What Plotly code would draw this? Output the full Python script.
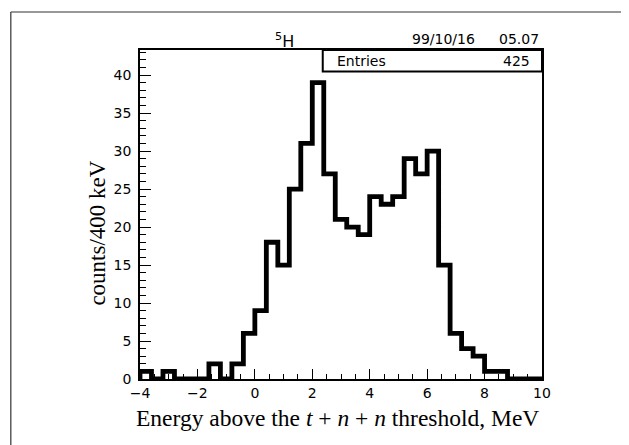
import plotly.graph_objects as go

# ---- data ----
bin_edges = [-4.0 + 0.4 * i for i in range(36)]
counts = [1, 0, 1, 0, 0, 0, 2, 0, 2, 6,
          9, 18, 15, 25, 31, 39, 27, 21, 20, 19,
          24, 23, 24, 29, 27, 30, 15, 6, 4, 3,
          1, 1, 0, 0, 0]
entries = 425
title_text = "<sup>5</sup>H"
date_text = "99/10/16"
time_text = "05.07"
x_title = "Energy above the <i>t</i> + <i>n</i> + <i>n</i> threshold, MeV"
y_title = "counts/400 keV"

# ---- geometry (pixels, in window coordinates; page body has an 8px margin) ----
OFF = 8
W, H = 629 - OFF, 445 - OFF
L, R, T, B = 139.5 - OFF, 542.5 - OFF, 50 - OFF, 379 - OFF


def px(x):
    return (x - OFF - L) / (R - L)


def py(y):
    return (B - (y - OFF)) / (B - T)


xs = [bin_edges[0]] + bin_edges[:-1] + [bin_edges[-1]]
ys = [0] + counts + [counts[-1]]

fig = go.Figure()
fig.add_trace(go.Scatter(
    x=xs, y=ys, mode="lines", line=dict(color="black", width=4.8, shape="hv"),
    cliponaxis=False, showlegend=False, hoverinfo="skip"))

tick_font = dict(family="DejaVu Sans", size=14, color="black")
fig.update_layout(
    width=W, height=H,
    margin=dict(l=L, r=W - R, t=T, b=H - B, pad=0),
    paper_bgcolor="white", plot_bgcolor="white",
    showlegend=False,
    xaxis=dict(range=[-4, 10], dtick=2, tick0=-4, ticks="inside", ticklen=10, tickwidth=1.3,
               tickcolor="black", showline=True, linecolor="black", linewidth=1.6, mirror=True,
               showgrid=False, zeroline=False, tickfont=tick_font,
               minor=dict(ticks="inside", dtick=0.5, tick0=-4, ticklen=5, tickwidth=1.3, tickcolor="black", showgrid=False)),
    yaxis=dict(range=[0, 43.3], dtick=5, tick0=0, ticks="inside", ticklen=11, tickwidth=1.3,
               tickcolor="black", showline=True, linecolor="black", linewidth=1.6, mirror=True,
               showgrid=False, zeroline=False, tickfont=tick_font, ticklabelstandoff=4,
               minor=dict(ticks="inside", dtick=1, ticklen=6, tickwidth=1.3, tickcolor="black", showgrid=False)),
)

# outer frame (cropped at right/bottom): left and top edges only
frame_line = dict(color="#333", width=1.2)
fig.add_shape(type="line", xref="paper", yref="paper",
              x0=px(10), x1=px(10), y0=py(460), y1=py(12), line=frame_line, layer="below")
fig.add_shape(type="line", xref="paper", yref="paper",
              x0=px(10), x1=px(640), y0=py(12), y1=py(12), line=frame_line, layer="below")

# entries box
fig.add_shape(type="rect", xref="paper", yref="paper",
              x0=px(322.7), x1=px(542.5), y0=py(71.5), y1=py(50),
              line=dict(color="black", width=2), fillcolor="white")

ann_font = dict(family="DejaVu Sans", size=14, color="black")
fig.add_annotation(x=px(335), y=py(60.5), xref="paper", yref="paper", text="Entries",
                   showarrow=False, xanchor="left", yanchor="middle", font=ann_font)
fig.add_annotation(x=px(532), y=py(60.5), xref="paper", yref="paper", text=str(entries),
                   showarrow=False, xanchor="right", yanchor="middle", font=ann_font)
fig.add_annotation(x=px(477), y=py(39), xref="paper", yref="paper", text=date_text,
                   showarrow=False, xanchor="right", yanchor="middle", font=ann_font)
fig.add_annotation(x=px(541), y=py(39), xref="paper", yref="paper", text=time_text,
                   showarrow=False, xanchor="right", yanchor="middle", font=ann_font)
fig.add_annotation(x=px(284), y=py(40), xref="paper", yref="paper", text=title_text,
                   showarrow=False, xanchor="center", yanchor="middle",
                   font=dict(family="DejaVu Sans", size=16, color="black"))

fig.add_annotation(x=px(337), y=py(418), xref="paper", yref="paper", text=x_title,
                   showarrow=False, xanchor="center", yanchor="middle",
                   font=dict(family="Liberation Serif", size=23.5, color="black"))
fig.add_annotation(x=px(96), y=py(233), xref="paper", yref="paper", text=y_title,
                   showarrow=False, xanchor="center", yanchor="middle", textangle=-90,
                   font=dict(family="Liberation Serif", size=23, color="black"))

fig.write_html("out.html")
